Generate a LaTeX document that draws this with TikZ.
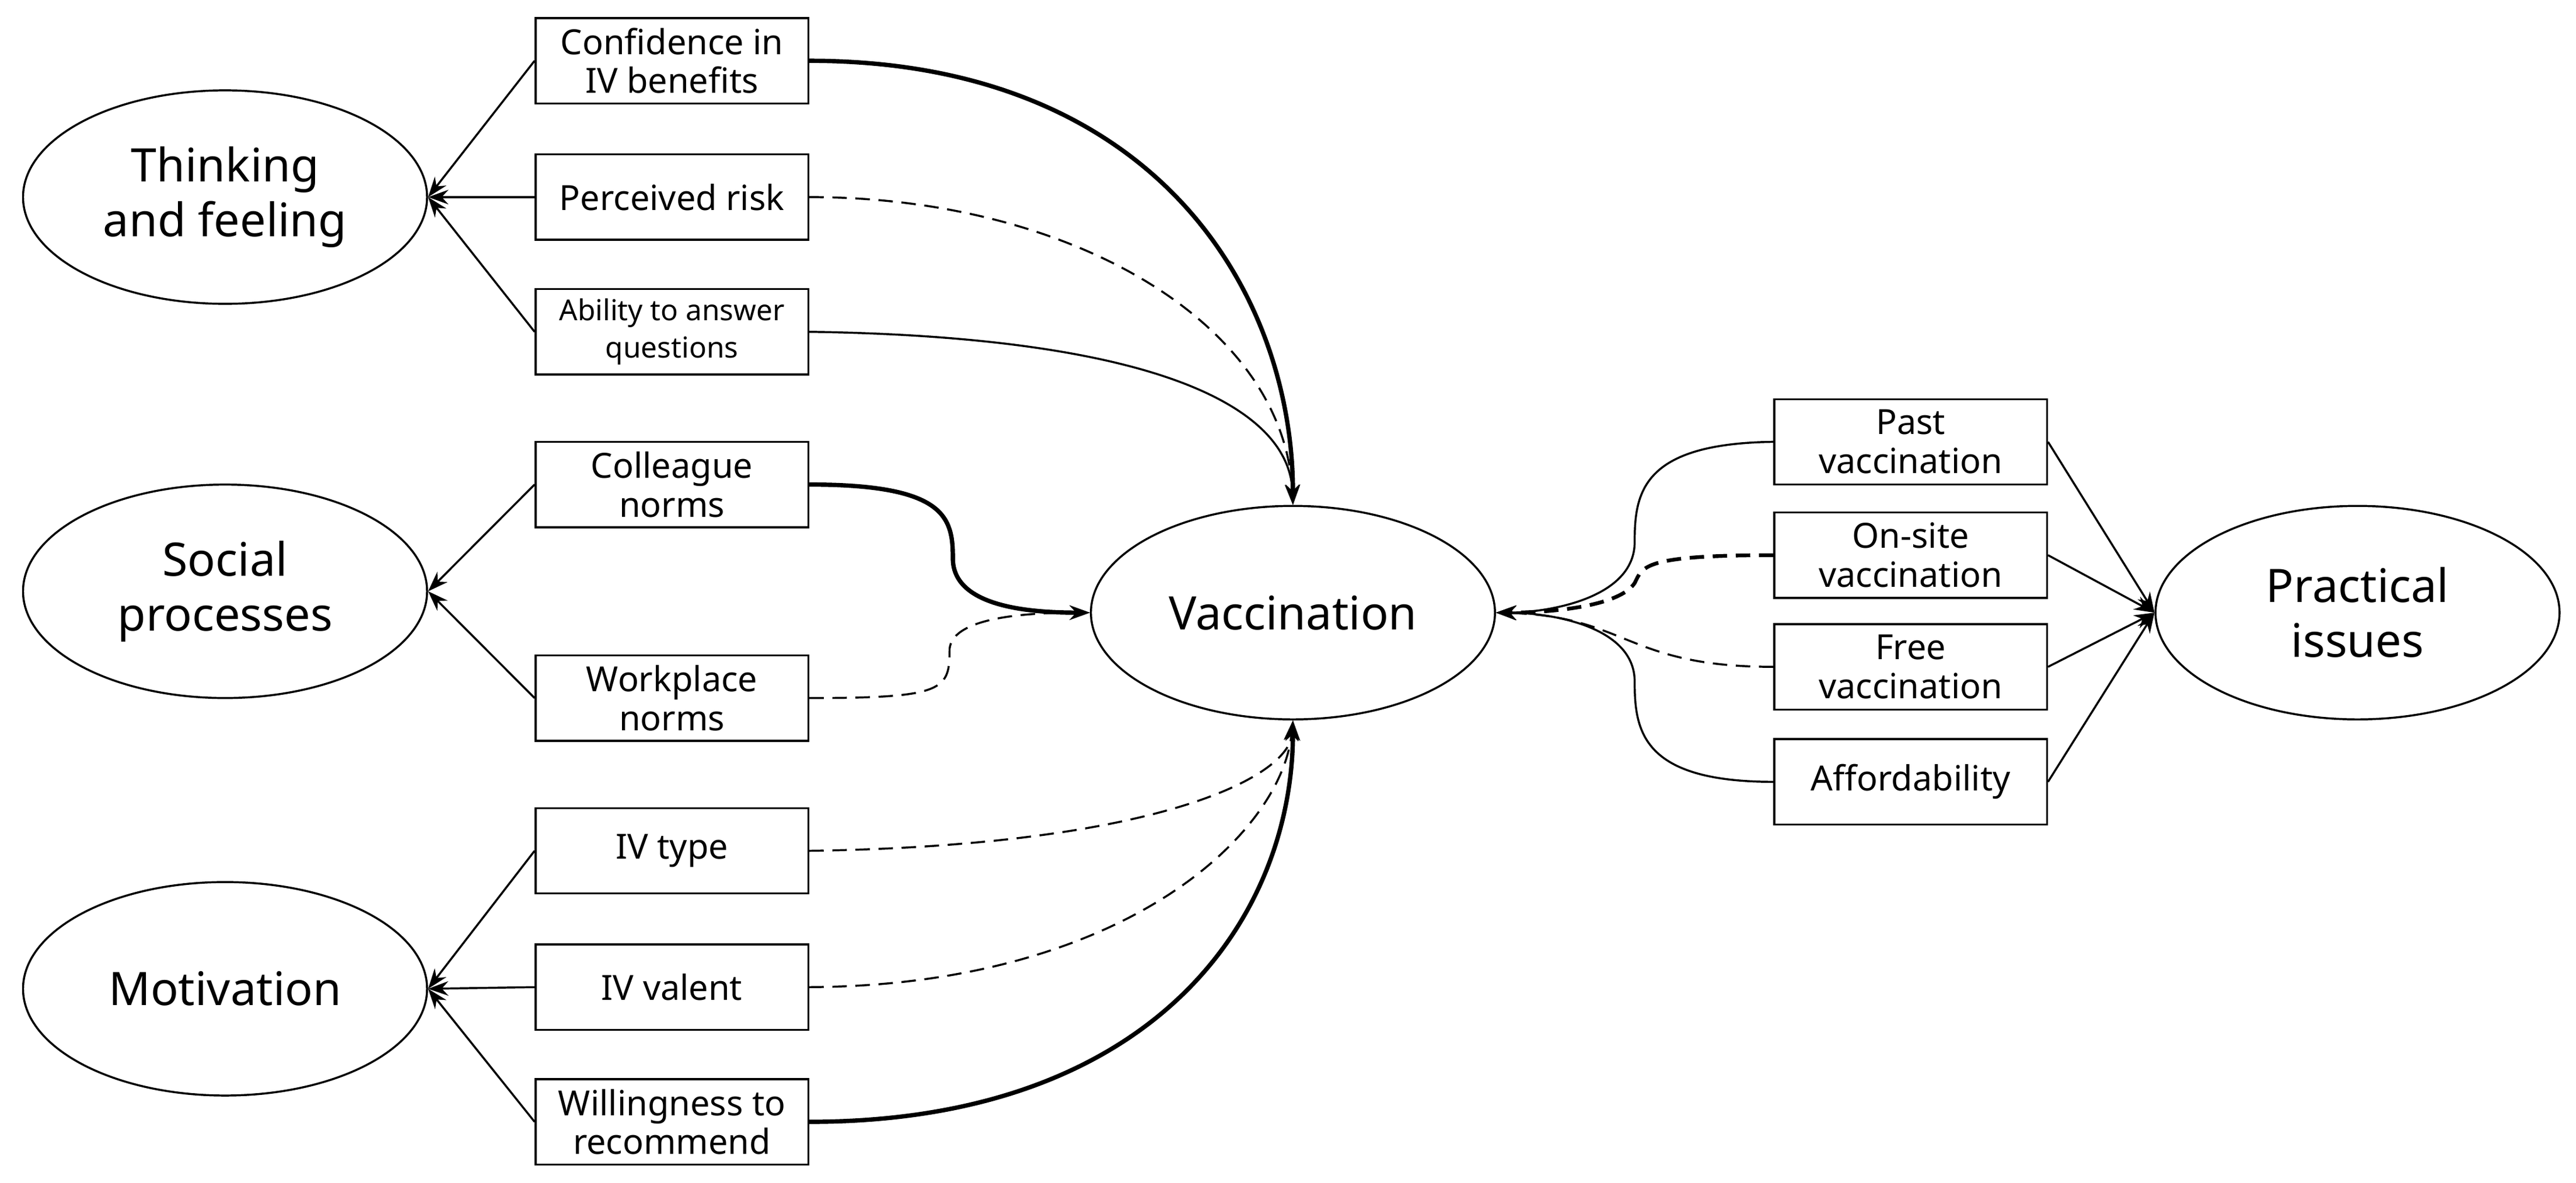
\documentclass[tikz,border=0pt]{standalone}
\usepackage{fontspec}
\setmainfont{Noto Sans}
\usetikzlibrary{arrows.meta, shapes.geometric}
\begin{document}
\begin{tikzpicture}[x=0.02cm, y=-0.02cm, >={Stealth[length=7pt,width=5pt]},
    box/.style={draw, line width=0.7pt, minimum width=3.32cm, minimum height=1.04cm,
        align=center, inner sep=1pt, font=\fontsize{12}{13.5}\selectfont},
    oval/.style={draw, ellipse, line width=0.7pt, minimum width=4.92cm, minimum height=2.6cm,
        align=center, font=\fontsize{16}{19}\selectfont},
    solidpath/.style={line width=0.7pt},
    strongpath/.style={line width=1.5pt},
    dashpath/.style={line width=0.7pt, dash pattern=on 5pt off 3pt}]
\useasboundingbox (0,0) rectangle (1568,720);
% latent factors
\node[oval] (think) at (137,120) {Thinking\\and feeling};
\node[oval] (social) at (137,360) {Social\\processes};
\node[oval] (motiv) at (137,602) {Motivation};
\node[oval] (vac) at (787,373) {Vaccination};
\node[oval] (prac) at (1435,373) {Practical\\issues};
% left boxes
\node[box] (conf) at (409,37) {Confidence in\\IV benefits};
\node[box] (risk) at (409,120) {Perceived risk};
\node[box, font=\fontsize{10}{13}\selectfont] (abil) at (409,202) {Ability to answer\\questions};
\node[box] (coll) at (409,295) {Colleague\\norms};
\node[box] (work) at (409,425) {Workplace\\norms};
\node[box] (type) at (409,518) {IV type};
\node[box] (valent) at (409,601) {IV valent};
\node[box] (will) at (409,683) {Willingness to\\recommend};
% right boxes
\node[box] (past) at (1163,269) {Past\\vaccination};
\node[box] (onsite) at (1163,338) {On-site\\vaccination};
\node[box] (free) at (1163,406) {Free\\vaccination};
\node[box] (afford) at (1163,476) {Affordability};
% indicators to factors
\foreach \b in {conf,risk,abil} \draw[solidpath,->] (\b.west) -- (think.east);
\foreach \b in {coll,work} \draw[solidpath,->] (\b.west) -- (social.east);
\foreach \b in {type,valent,will} \draw[solidpath,->] (\b.west) -- (motiv.east);
\foreach \b in {past,onsite,free,afford} \draw[solidpath,->] (\b.east) -- (prac.west);
% paths to vaccination
\draw[strongpath,->] (conf.east) .. controls +(210,0) and +(0,-130) .. (vac.north);
\draw[dashpath,->] (risk.east) .. controls +(160,0) and +(-5,-110) .. (vac.north);
\draw[solidpath,->] (abil.east) .. controls +(210,3) and +(-2,-60) .. (vac.north);
\draw[strongpath,->] (coll.east) .. controls +(83,0) and +(0,-25) .. (580,340)
    .. controls +(0,30) and +(-35,0) .. (vac.west);
\draw[dashpath,->] (work.east) .. controls +(83,0) and +(0,25) .. (578,395)
    .. controls +(2,-20) and +(-35,0) .. (vac.west);
\draw[dashpath,->] (type.east) .. controls +(210,-3) and +(-2,35) .. (vac.south);
\draw[dashpath,->] (valent.east) .. controls +(190,-1) and +(-7,70) .. (vac.south);
\draw[strongpath,->] (will.east) .. controls +(210,0) and +(0,120) .. (vac.south);
\draw[solidpath,->] (past.west) .. controls +(-80,1) and +(0,-30) .. (995,330)
    .. controls +(0,35) and +(30,0) .. (vac.east);
\draw[dashpath,line width=1.3pt,->] (onsite.west) .. controls +(-80,0) and +(5,-10) .. (995,355)
    .. controls +(-10,15) and +(30,0) .. (vac.east);
\draw[dashpath,->] (free.west) .. controls +(-90,0) and +(80,2) .. (vac.east);
\draw[solidpath,->] (afford.west) .. controls +(-80,0) and +(0,30) .. (995,415)
    .. controls +(0,-35) and +(30,0) .. (vac.east);
\end{tikzpicture}
\end{document}
